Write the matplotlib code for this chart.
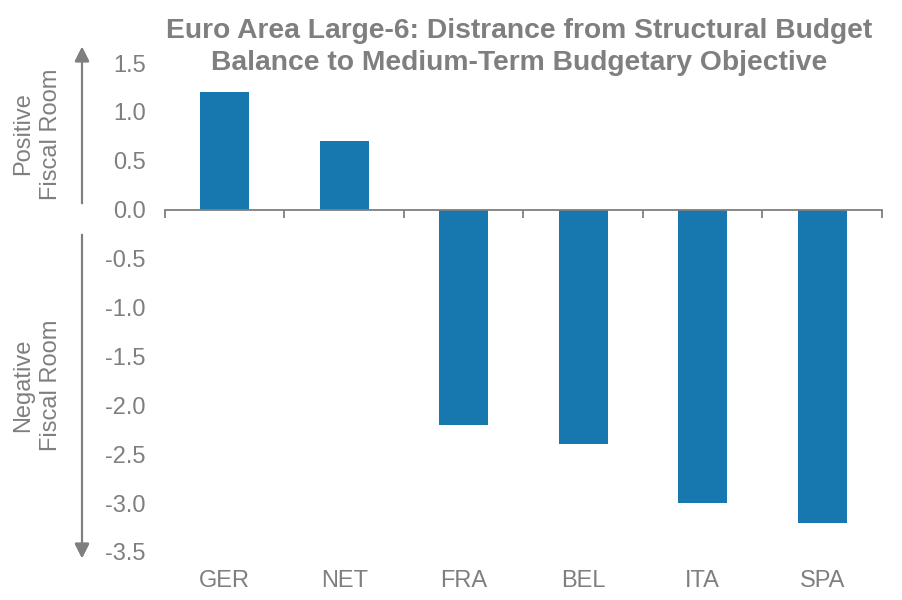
import numpy as np
import matplotlib.pyplot as plt

plt.rcParams['font.family'] = ['Liberation Sans', 'DejaVu Sans']

countries = ['GER', 'NET', 'FRA', 'BEL', 'ITA', 'SPA']
distance = [1.2, 0.7, -2.2, -2.4, -3.0, -3.2]
yticks = [1.5, 1.0, 0.5, 0.0, -0.5, -1.0, -1.5, -2.0, -2.5, -3.0, -3.5]

gray = '#7F7F7F'
blue = '#1778B0'

fig = plt.figure(figsize=(9.03, 6), dpi=100)
ax = fig.add_axes([165/903, 1-552/600, (882-165)/903, (552-63)/600])

x = np.arange(len(countries))
ax.bar(x, distance, width=0.41, color=blue, zorder=2)

ax.set_xlim(-0.5, len(countries)-0.5)
ax.set_ylim(-3.5, 1.5)
ax.set_yticks(yticks)
ax.set_yticklabels(['%0.1f' % v for v in yticks])
ax.tick_params(axis='y', length=0, pad=14, labelsize=17, labelcolor=gray)

#axis line at zero with boundary ticks
for s in ['left', 'right', 'top']:
	ax.spines[s].set_visible(False)
ax.spines['bottom'].set_position(('data', 0))
ax.spines['bottom'].set_color(gray)
ax.spines['bottom'].set_linewidth(1.3)
ax.set_xticks(np.arange(-0.5, len(countries)), minor=True)
ax.set_xticks([])
ax.tick_params(axis='x', which='minor', direction='out', length=6, width=1.3, color=gray)

sec = ax.secondary_xaxis(0)
sec.set_xticks(x)
sec.set_xticklabels(countries)
sec.spines['bottom'].set_visible(False)
sec.tick_params(length=0, pad=13, labelsize=17, labelcolor=gray)

fig.text(0.575, 1-47/600, 'Euro Area Large-6: Distrance from Structural Budget\nBalance to Medium-Term Budgetary Objective',
	ha='center', va='center', fontsize=20.3, fontweight='bold', color=gray, linespacing=1.25)

#fiscal room arrows
ax_x = 82/903
fig.add_artist(plt.annotate('', xy=(ax_x, 1-44/600), xytext=(ax_x, 1-206/600), xycoords='figure fraction',
	arrowprops=dict(arrowstyle='-|>', color=gray, lw=1.5, mutation_scale=22)))
fig.add_artist(plt.annotate('', xy=(ax_x, 1-561/600), xytext=(ax_x, 1-232/600), xycoords='figure fraction',
	arrowprops=dict(arrowstyle='-|>', color=gray, lw=1.5, mutation_scale=22)))
fig.text(37/903, 1-134/600, 'Positive\nFiscal Room', rotation=90, ha='center', va='center', fontsize=17, color=gray, linespacing=1.3)
fig.text(37/903, 1-385/600, 'Negative\nFiscal Room', rotation=90, ha='center', va='center', fontsize=17, color=gray, linespacing=1.3)

fig.savefig('out.png', dpi=100)
